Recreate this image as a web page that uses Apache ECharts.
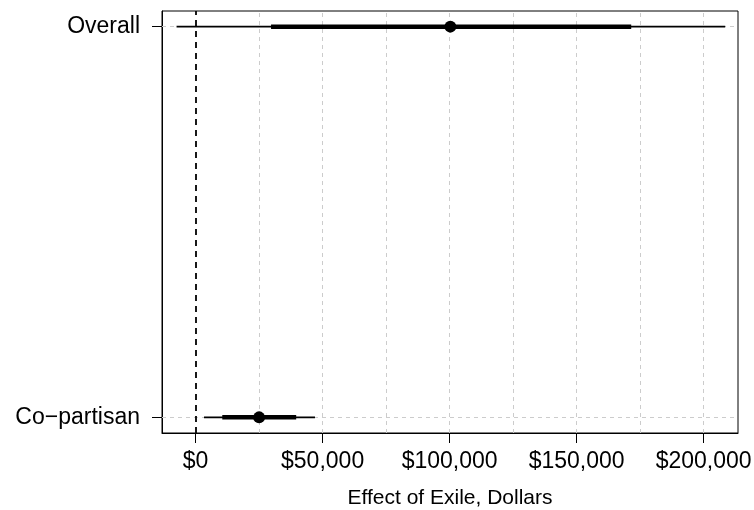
<!DOCTYPE html>
<html>
<head>
<meta charset="utf-8">
<script src="https://cdn.jsdelivr.net/npm/echarts@6/dist/echarts.min.js"></script>
<style>
  html, body { margin: 0; padding: 0; background: #fff; }
  #chart { width: 754px; height: 510px; }
</style>
</head>
<body>
<div id="chart"></div>
<script>
// rows, bottom to top (y position 1 = bottom)
const categories = ["Co\u2212partisan", "Overall"];
const estimates = [25000, 100300];
const outerLow = [3300, -7500];
const outerHigh = [47000, 208500];
const innerLow = [10500, 29700];
const innerHigh = [39600, 171500];

const xTicks = [0, 50000, 100000, 150000, 200000];
const xGrid = [25000, 50000, 75000, 100000, 125000, 150000, 175000, 200000];

const fontFamily = "'Liberation Sans', Arial, sans-serif";

function dollars(v) {
  return "$" + String(Math.round(v)).replace(/\B(?=(\d{3})+(?!\d))/g, ",");
}

const rowPos = categories.map((c, i) => i + 1);
const outerData = rowPos.map((y, i) => [outerLow[i], outerHigh[i], y]);
const innerData = rowPos.map((y, i) => [innerLow[i], innerHigh[i], y]);
const pointData = rowPos.map((y, i) => [estimates[i], y]);

function intervalRenderer(width) {
  return function (params, api) {
    const a = api.coord([api.value(0), api.value(2)]);
    const b = api.coord([api.value(1), api.value(2)]);
    return {
      type: "line",
      shape: { x1: a[0], y1: a[1], x2: b[0], y2: b[1] },
      style: { stroke: "#000", lineWidth: width, lineCap: "butt" },
    };
  };
}

const gridLine = { color: "#cccccc", type: [4, 4], width: 1 };

let chart = echarts.init(document.getElementById("chart"));
chart.setOption({
  animation: false,
  textStyle: { fontFamily: fontFamily },
  grid: {
    left: 162,
    right: 16,
    top: 11,
    bottom: 77,
    outerBoundsMode: "none",
    containLabel: false,
    show: true,
    borderColor: "#000",
    borderWidth: 1,
  },
  xAxis: {
    type: "value",
    min: -13230,
    max: 213540,
    name: "Effect of Exile, Dollars",
    nameLocation: "middle",
    nameGap: 55,
    nameTextStyle: { fontSize: 21, color: "#000", fontFamily: fontFamily },
    axisLine: { show: true, onZero: false, lineStyle: { color: "#000", width: 1 } },
    axisTick: { show: true, length: 10, customValues: xTicks, lineStyle: { color: "#000" } },
    axisLabel: {
      customValues: xTicks,
      formatter: dollars,
      fontSize: 23,
      color: "#000",
      margin: 17,
      showMaxLabel: true,
    },
    splitLine: { show: false },
  },
  yAxis: {
    type: "value",
    min: 0.96,
    max: 2.04,
    axisLine: { show: true, onZero: false, lineStyle: { color: "#000", width: 1 } },
    axisTick: { show: true, length: 10, customValues: rowPos, lineStyle: { color: "#000" } },
    axisLabel: {
      customValues: rowPos,
      formatter: (v) => categories[Math.round(v) - 1],
      fontSize: 23,
      color: "#000",
      margin: 22,
    },
    splitLine: { show: false },
  },
  series: [
    {
      // reference lines only, kept beneath the intervals
      type: "scatter",
      data: [],
      z: 1,
      markLine: {
        silent: true,
        symbol: "none",
        z: 1,
        label: { show: false },
        lineStyle: gridLine,
        data: xGrid.map((v) => ({ xAxis: v })).concat(rowPos.map((v) => ({ yAxis: v }))).concat([
          { xAxis: 0, lineStyle: { color: "#000", type: [6, 5], width: 1.8 } },
        ]),
      },
    },
    {
      type: "custom",
      renderItem: intervalRenderer(1.6),
      data: outerData,
      z: 3,
    },
    {
      type: "custom",
      renderItem: intervalRenderer(4.5),
      data: innerData,
      z: 4,
    },
    {
      type: "scatter",
      data: pointData,
      symbolSize: 12,
      itemStyle: { color: "#000", opacity: 1 },
      z: 5,
    },
  ],
});
</script>
</body>
</html>
